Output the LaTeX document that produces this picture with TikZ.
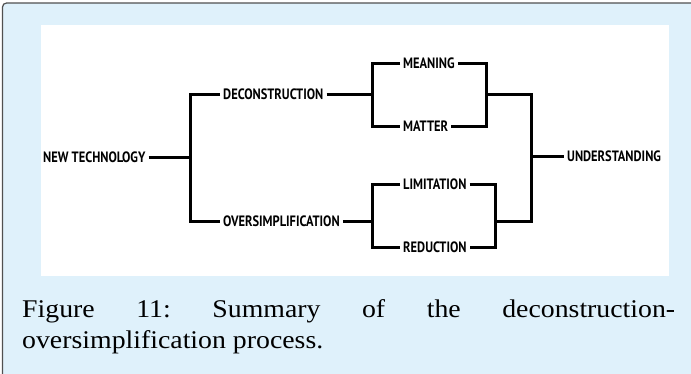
\documentclass[tikz,border=0pt]{standalone}
\usepackage{fontspec}
\usepackage{xcolor}
\usepackage{tikz}
\newfontfamily\termfont[FakeStretch=0.83]{PT Sans}
\newfontfamily\capfont[FakeStretch=1.09]{Liberation Serif}
\definecolor{panelblue}{HTML}{DFF1FB}
\definecolor{framegray}{HTML}{505050}
\tikzset{
  term/.style={anchor=west, inner xsep=3pt, inner ysep=1pt, font=\termfont\bfseries\fontsize{15}{15}\selectfont},
  link/.style={draw=black, line width=3pt, line join=miter}
}

\begin{document}
\begin{tikzpicture}[x=1pt,y=-1pt]
		\useasboundingbox (0,0) rectangle (691,373);
		\clip (0,0) rectangle (691,373);
		\draw[draw=framegray, fill=panelblue, line width=1.2pt, rounded corners=4pt] (2.5,3) rectangle (720,400);
		\draw[draw=none, fill=white] (41,25) rectangle (669,276);

		% terms
		\node[term] (newtech) at (40,157) {NEW TECHNOLOGY};
		\node[term] (decon) at (220,94) {DECONSTRUCTION};
		\node[term] (oversimp) at (220,221) {OVERSIMPLIFICATION};
		\node[term] (meaning) at (400,63) {MEANING};
		\node[term] (matter) at (400,126) {MATTER};
		\node[term] (limit) at (400,184) {LIMITATION};
		\node[term] (reduct) at (400,247) {REDUCTION};
		\node[term] (underst) at (564,156) {UNDERSTANDING};

		% junctions
		\coordinate (j1) at (190,157);
		\coordinate (j2) at (372,94);
		\coordinate (j3) at (372,221);
		\coordinate (j4) at (486,94);
		\coordinate (j5) at (495,221);
		\coordinate (j6) at (531,156);

		\draw[link] (newtech.east) -- (j1);
		\draw[link] (decon.west) -| (j1) |- (oversimp.west);
		\draw[link] (decon.east) -- (j2);
		\draw[link] (meaning.west) -| (j2) |- (matter.west);
		\draw[link] (oversimp.east) -- (j3);
		\draw[link] (limit.west) -| (j3) |- (reduct.west);
		\draw[link] (meaning.east) -| (j4) |- (matter.east);
		\draw[link] (limit.east) -| (j5) |- (reduct.east);
		\draw[link] (j4) -| (j6) |- (j5);
		\draw[link] (j6) -- (underst.west);

		% caption
		\node[anchor=base west, inner sep=0pt, align=left, font=\capfont\frenchspacing\fontsize{25.5}{31}\selectfont] (caption) at (22,348)
			{\makebox[653pt][s]{Figure 11: Summary of the deconstruction-}\\oversimplification process.};
\end{tikzpicture}
\end{document}
